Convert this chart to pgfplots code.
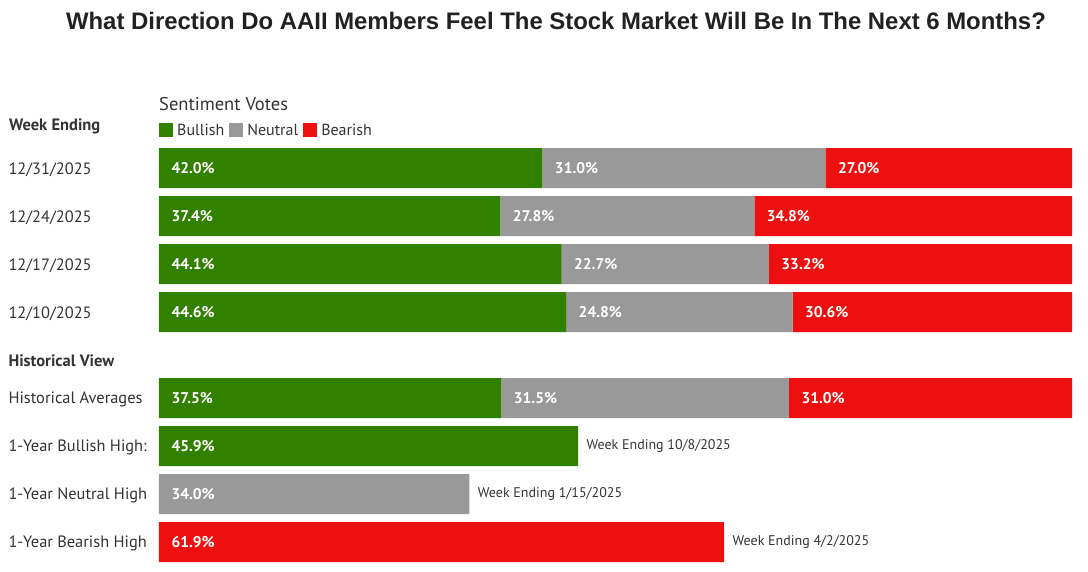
\documentclass[border=0pt]{standalone}
\usepackage{pgfplots}
\pgfplotsset{compat=1.18}
\usepackage{pgfplotstable}
\usepackage{fontspec}
\setmainfont{PT Sans}
\newfontfamily\titlefont{Liberation Sans}
\definecolor{bull}{HTML}{318000}
\definecolor{neu}{HTML}{999999}
\definecolor{bear}{HTML}{EE1010}
\definecolor{txt}{HTML}{333333}

% y = row centre in pixels from the top
\pgfplotstableread{
y   bull  neu   bear
168 42.0  31.0  27.0
216 37.4  27.8  34.8
264 44.1  22.7  33.2
312 44.6  24.8  30.6
398 37.5  31.5  31.0
446 45.9  0     0
494 0     34.0  0
542 0     0     61.9
}\votes

\begin{document}
\begin{tikzpicture}[x=1pt,y=1pt,
  lab/.style={anchor=west, font=\bfseries\fontsize{15.5}{18}\selectfont, text=white, xshift=9pt, yshift=-0.5pt},
  note/.style={anchor=west, font=\fontsize{14}{17}\selectfont, text=txt, xshift=5pt}]
\useasboundingbox (0,0) rectangle (1088,-571);
\node[font=\titlefont\bfseries\fontsize{23.9}{28}\selectfont, text=black!87] at (556,-21) {What Direction Do AAII Members Feel The Stock Market Will Be In The Next 6 Months?};
\node[anchor=west, font=\fontsize{18.5}{22}\selectfont, text=txt, inner sep=0] at (159,-104) {Sentiment Votes};
\begin{axis}[
  at={(159pt,-148pt)}, anchor=north west,
  scale only axis, width=913pt, height=414pt,
  xbar stacked, bar width=40,
  xmin=0, xmax=100, ymin=148, ymax=562, y dir=reverse,
  axis line style={draw=none}, tick style={draw=none},
  xtick=\empty,
  ytick={168,216,264,312,359,398,446,494,542},
  yticklabels={12/31/2025,12/24/2025,12/17/2025,12/10/2025,{\fontsize{16.5}{20}\selectfont\bfseries Historical View},Historical Averages,1-Year Bullish High:,1-Year Neutral High,1-Year Bearish High},
  yticklabel style={anchor=west, xshift=-154pt, yshift=-1.8pt, font=\fontsize{16.4}{19}\selectfont, text=txt},
  clip=false,
  legend columns=-1,
  legend style={at={(axis description cs:0,1)}, anchor=south west, yshift=9pt, draw=none, fill=none, inner sep=0pt,
    font=\fontsize{16}{19}\selectfont, text=txt,
    /tikz/every even column/.append style={column sep=3pt},
    /tikz/every odd column/.append style={column sep=2pt}},
  legend image code/.code={\fill[#1] (0pt,-7pt) rectangle (14pt,7pt);},
]
\addplot[fill=bull, draw=none] table[x=bull, y=y] {\votes};
\addplot[fill=neu, draw=none] table[x=neu, y=y] {\votes};
\addplot[fill=bear, draw=none] table[x=bear, y=y] {\votes};
\legend{Bullish,Neutral,Bearish}
\end{axis}
% value labels: x in percent (segment start), y in pixel rows, same frame as the axis
\begin{scope}[shift={(159pt,0pt)}, x=9.13pt, y=-1pt]
\node[lab] at (0,168) {42.0\%};
\node[lab] at (42.0,168) {31.0\%};
\node[lab] at (73.0,168) {27.0\%};
\node[lab] at (0,216) {37.4\%};
\node[lab] at (37.4,216) {27.8\%};
\node[lab] at (65.2,216) {34.8\%};
\node[lab] at (0,264) {44.1\%};
\node[lab] at (44.1,264) {22.7\%};
\node[lab] at (66.8,264) {33.2\%};
\node[lab] at (0,312) {44.6\%};
\node[lab] at (44.6,312) {24.8\%};
\node[lab] at (69.4,312) {30.6\%};
\node[lab] at (0,398) {37.5\%};
\node[lab] at (37.5,398) {31.5\%};
\node[lab] at (69.0,398) {31.0\%};
\node[lab] at (0,446) {45.9\%};
\node[lab] at (0,494) {34.0\%};
\node[lab] at (0,542) {61.9\%};
\node[note] at (45.9,446) {Week Ending 10/8/2025};
\node[note] at (34.0,494) {Week Ending 1/15/2025};
\node[note] at (61.9,542) {Week Ending 4/2/2025};
\end{scope}
\node[anchor=west, font=\bfseries\fontsize{16.5}{20}\selectfont, text=txt, inner sep=0] at (9,-126) {Week Ending};
\end{tikzpicture}
\end{document}
